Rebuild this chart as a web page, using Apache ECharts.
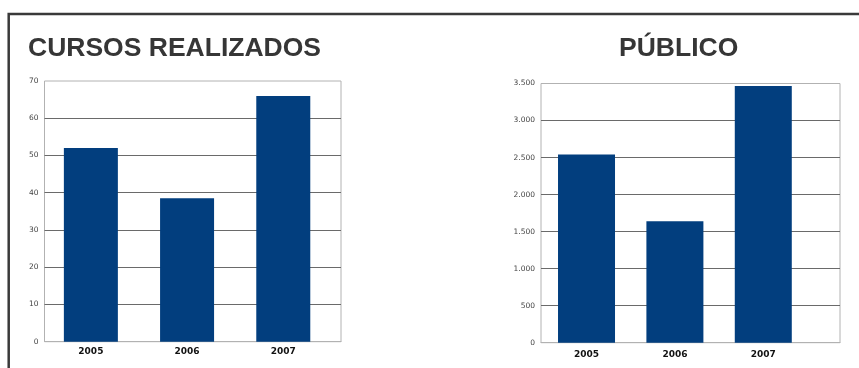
<!DOCTYPE html>
<html>
<head>
<meta charset="utf-8">
<script src="https://cdn.jsdelivr.net/npm/echarts@6/dist/echarts.min.js"></script>
<style>
  html, body { margin: 0; padding: 0; background: #fff; }
  #chart { width: 859px; height: 368px; }
</style>
</head>
<body>
<div id="chart"></div>
<script>
// Years shown on both charts
const years = [2005, 2006, 2007];
// Courses held per year
const cursos = [52, 38.5, 66];
// Attendance per year
const publico = [2540, 1640, 3465];
// Value-axis tick labels
const cursosTicks = [0, 10, 20, 30, 40, 50, 60, 70];
const publicoTicks = [0, 500, 1000, 1500, 2000, 2500, 3000, 3500];

const BAR = '#023e7e';
const BOX = '#b2b2b2';
const GRID = '#6a6a6a';

function dotThousands(v) {
  return String(v).replace(/\B(?=(\d{3})+(?!\d))/g, '.');
}

const chart = echarts.init(document.getElementById('chart'), null, { renderer: 'canvas' });

function xAxisFor(gridIndex, min, max, margin) {
  return {
    type: 'value', gridIndex, min, max,
    splitLine: { show: false },
    axisTick: { show: false },
    axisLine: { show: true, lineStyle: { color: BOX, width: 1 } },
    axisLabel: {
      customValues: years,
      margin,
      formatter: v => String(v),
      color: '#111', fontWeight: 'bold', fontSize: 9,
      fontFamily: 'DejaVu Sans'
    }
  };
}

function yAxisFor(gridIndex, ticks, fmt) {
  return {
    type: 'value', gridIndex,
    min: ticks[0], max: ticks[ticks.length - 1],
    interval: ticks[1] - ticks[0],
    axisLine: { show: false },
    axisTick: { show: false },
    splitLine: { show: true, showMinLine: false, showMaxLine: false, lineStyle: { color: GRID, width: 1 } },
    axisLabel: { margin: 6, color: '#444', fontSize: 7.5, fontFamily: 'DejaVu Sans', formatter: fmt }
  };
}

chart.setOption({
  animation: false,
  backgroundColor: '#fff',
  title: [
    { text: 'CURSOS REALIZADOS', left: 23, top: 30,
      textStyle: { fontFamily: 'Liberation Sans', fontWeight: 'bold', fontSize: 26.5, color: '#363636' } },
    { text: 'PÚBLICO', left: 614, top: 30,
      textStyle: { fontFamily: 'Liberation Sans', fontWeight: 'bold', fontSize: 26.5, color: '#363636' } }
  ],
  graphic: [
    { type: 'rect', silent: true, z: 100,
      shape: { x: 8.7, y: 14, width: 1000, height: 500 },
      style: { fill: 'none', stroke: '#3a3a3a', lineWidth: 2.5 } }
  ],
  grid: [
    { left: 44.5, right: 518, top: 81, bottom: 26.3, show: true, borderColor: BOX, borderWidth: 1, backgroundColor: '#fff' },
    { left: 541, right: 19, top: 83.5, bottom: 25.3, show: true, borderColor: BOX, borderWidth: 1, backgroundColor: '#fff' }
  ],
  xAxis: [
    xAxisFor(0, 2004.518, 2007.6, 5),
    xAxisFor(1, 2004.485, 2007.868, 7)
  ],
  yAxis: [
    yAxisFor(0, cursosTicks, v => String(v)),
    yAxisFor(1, publicoTicks, v => dotThousands(v))
  ],
  series: [
    { type: 'bar', xAxisIndex: 0, yAxisIndex: 0, barWidth: 54,
      itemStyle: { color: BAR },
      data: years.map((y, i) => [y, cursos[i]]) },
    { type: 'bar', xAxisIndex: 1, yAxisIndex: 1, barWidth: 57,
      itemStyle: { color: BAR },
      data: years.map((y, i) => [y, publico[i]]) }
  ]
});
</script>
</body>
</html>
